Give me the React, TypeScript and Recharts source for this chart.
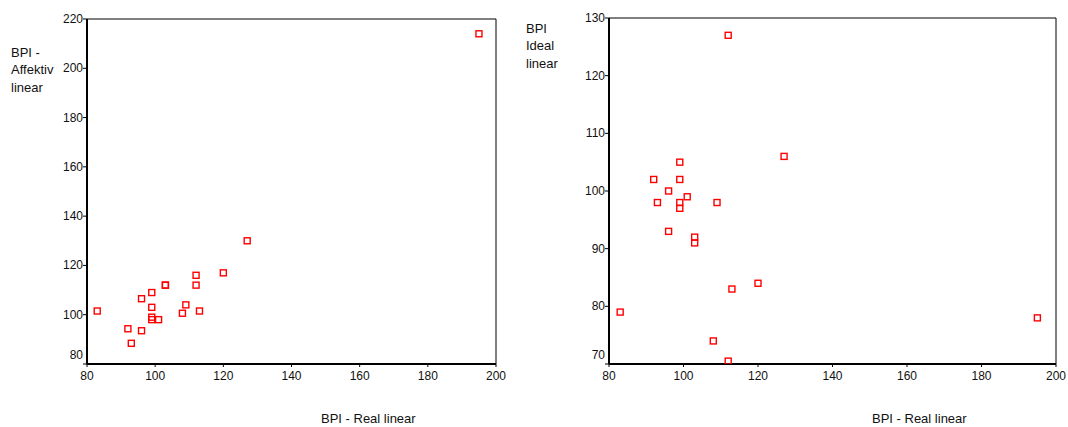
import React from "react";
import { ScatterChart, Scatter, XAxis, YAxis, ReferenceArea } from "recharts";

// one entry per subject, same order in every array
const realScores = [195, 127, 120, 112, 112, 103, 103, 99, 96, 99, 109, 108, 113, 83, 99, 99, 101, 92, 96, 93];
const affektivScores = [214, 130, 117, 116, 112, 112, 112, 109, 106.5, 103, 104, 100.6, 101.5, 101.5, 99, 98, 98, 94.3, 93.5, 88.4];
const idealScores = [78, 106, 84, 127, 70.5, 92, 91, 105, 100, 102, 98, 74, 83, 79, 98, 97, 99, 102, 93, 98];

const realTicks = [80, 100, 120, 140, 160, 180, 200];
const affektivTicks = [80, 100, 120, 140, 160, 180, 200, 220];
const idealTicks = [70, 80, 90, 100, 110, 120, 130];

const FONT = "'Liberation Sans', Arial, sans-serif";

const affektivData = realScores.map((r, i) => ({ real: r, value: affektivScores[i] }));
const idealData = realScores.map((r, i) => ({ real: r, value: idealScores[i] }));

const Marker = (props: any) => {
  const { cx, cy } = props;
  if (cx == null || cy == null) return null;
  return <rect x={cx - 3} y={cy - 3} width={6} height={6} fill="none" stroke="#ff0000" strokeWidth={1.4} />;
};

// lowest y label sits a bit above the corner, as in the original
const YTick = (props: any) => {
  const { x, y, payload, index } = props;
  return (
    <text x={x} y={y} dy={index === 0 ? -5 : 4} textAnchor="end" fontSize={12} fill="#111" fontFamily={FONT}>
      {payload.value}
    </text>
  );
};

function Plot({
  data,
  yDomain,
  yTicks,
  width,
  margin,
}: {
  data: { real: number; value: number }[];
  yDomain: [number, number];
  yTicks: number[];
  width: number;
  margin: { top: number; right: number; bottom: number; left: number };
}) {
  return (
    <ScatterChart width={width} height={427} margin={margin}>
      <ReferenceArea x1={80} x2={200} y1={yDomain[0]} y2={yDomain[1]} fill="none" stroke="#000" strokeWidth={1} ifOverflow="visible" />
      <XAxis
        type="number"
        dataKey="real"
        domain={[80, 200]}
        ticks={realTicks}
        height={30}
        axisLine={{ stroke: "#000", strokeWidth: 2 }}
        tickLine={{ stroke: "#000" }}
        tickSize={3}
        tickMargin={4}
        tick={{ fontSize: 12, fill: "#111", fontFamily: FONT }}
        allowDataOverflow
      />
      <YAxis
        type="number"
        dataKey="value"
        domain={yDomain}
        ticks={yTicks}
        width={60}
        axisLine={{ stroke: "#000", strokeWidth: 2 }}
        tickLine={{ stroke: "#000" }}
        tickSize={4}
        tickMargin={0}
        tick={<YTick />}
        allowDataOverflow
      />
      <Scatter data={data} shape={<Marker />} isAnimationActive={false} />
    </ScatterChart>
  );
}

const titleStyle: React.CSSProperties = {
  position: "absolute",
  fontFamily: FONT,
  fontSize: 13,
  lineHeight: "17.3px",
  color: "#111",
  whiteSpace: "nowrap",
};

export default function App() {
  return (
    <div style={{ position: "absolute", left: 0, top: 0, width: 1068, height: 427, background: "#fff", overflow: "hidden" }}>
      <div style={{ position: "absolute", left: 0, top: 0 }}>
        <Plot
          data={affektivData}
          yDomain={[80, 220]}
          yTicks={affektivTicks}
          width={534}
          margin={{ top: 19, right: 38, bottom: 33, left: 27 }}
        />
      </div>
      <div style={{ position: "absolute", left: 534, top: 0 }}>
        <Plot
          data={idealData}
          yDomain={[70, 130]}
          yTicks={idealTicks}
          width={534}
          margin={{ top: 18, right: 12, bottom: 33, left: 15 }}
        />
      </div>
      <div style={{ ...titleStyle, left: 11, top: 44 }}>
        BPI -<br />
        Affektiv<br />
        linear
      </div>
      <div style={{ ...titleStyle, left: 526, top: 20 }}>
        BPI<br />
        Ideal<br />
        linear
      </div>
      <div style={{ ...titleStyle, left: 321, top: 410 }}>BPI - Real linear</div>
      <div style={{ ...titleStyle, left: 872, top: 410 }}>BPI - Real linear</div>
    </div>
  );
}
